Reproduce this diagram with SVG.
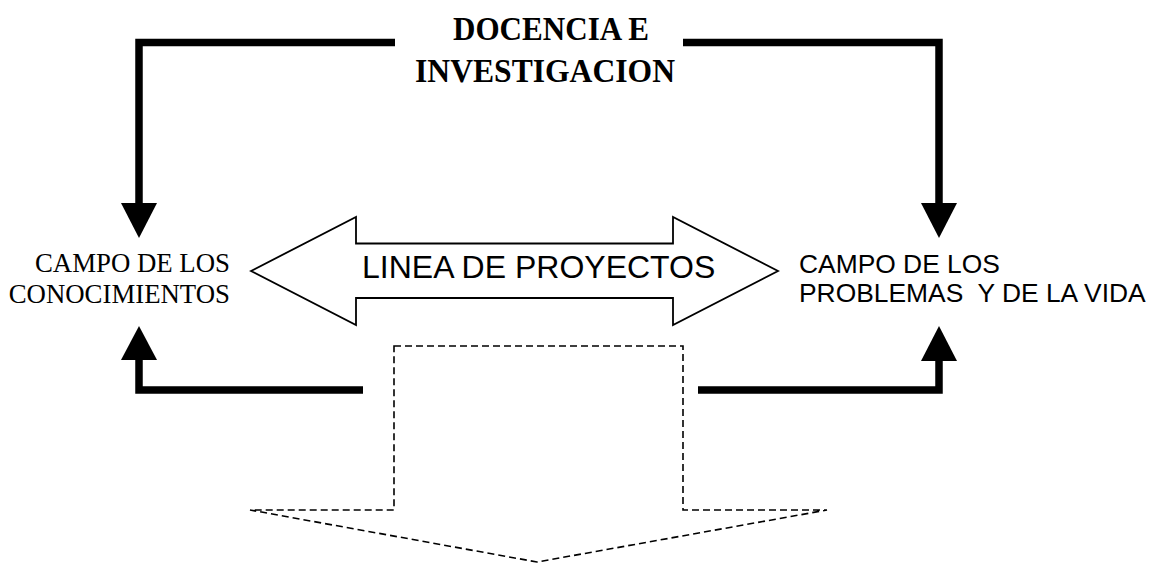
<svg xmlns="http://www.w3.org/2000/svg" width="1155" height="563" viewBox="0 0 1155 563">
<style>
.bg{fill:#ffffff}
.thick{fill:none;stroke:#000;stroke-width:7.5;stroke-linejoin:miter;stroke-linecap:butt}
.head{fill:#000;stroke:none}
.outline{fill:#fff;stroke:#000;stroke-width:1.8;stroke-linejoin:miter}
.dashed{fill:none;stroke:#000;stroke-width:1.6;stroke-dasharray:7 4;stroke-linejoin:miter}
.title{font-family:"Liberation Serif","Times New Roman",serif;font-weight:bold;font-size:34px;fill:#000}
.serif{font-family:"Liberation Serif","Times New Roman",serif;font-size:26.8px;fill:#000}
.sans{font-family:"Liberation Sans",Arial,sans-serif;fill:#000}
</style>
<rect class="bg" x="0" y="0" width="1155" height="563"/>
<g id="connectors">
  <polyline class="thick" points="395,42.5 139,42.5 139,204"/>
  <polygon class="head" points="121,203 157,203 139,238"/>
  <polyline class="thick" points="683,42.5 939,42.5 939,204"/>
  <polygon class="head" points="921,203 957,203 939,238"/>
  <polyline class="thick" points="363,390 139,390 139,359"/>
  <polygon class="head" points="121,360 157,360 139,326"/>
  <polyline class="thick" points="698,390 939,390 939,359"/>
  <polygon class="head" points="921,361 957,361 939,326"/>
</g>
<g id="docencia">
  <text class="title" x="453" y="39.5" textLength="196" lengthAdjust="spacingAndGlyphs">DOCENCIA E</text>
  <text class="title" x="415" y="81.5" textLength="260" lengthAdjust="spacingAndGlyphs">INVESTIGACION</text>
</g>
<g id="campo-conocimientos">
  <text class="serif" x="230" y="271.5" text-anchor="end">CAMPO DE LOS</text>
  <text class="serif" x="230" y="303.3" text-anchor="end">CONOCIMIENTOS</text>
</g>
<g id="linea-proyectos">
  <polygon class="outline" points="251,271 356,217 356,243.5 673,243.5 673,217 778,271 673,325 673,298 356,298 356,325"/>
  <text class="sans" x="362" y="278.3" font-size="32">LINEA DE PROYECTOS</text>
</g>
<g id="campo-problemas">
  <text class="sans" x="799" y="272.7" font-size="26.4">CAMPO DE LOS</text>
  <text class="sans" x="799" y="301.7" font-size="26.4" xml:space="preserve" style="white-space:pre">PROBLEMAS  Y DE LA VIDA</text>
</g>
<g id="resultado">
  <polygon class="dashed" points="394,346 683,346 683,510 827,510 537,562 250,510 394,510"/>
</g>
</svg>
